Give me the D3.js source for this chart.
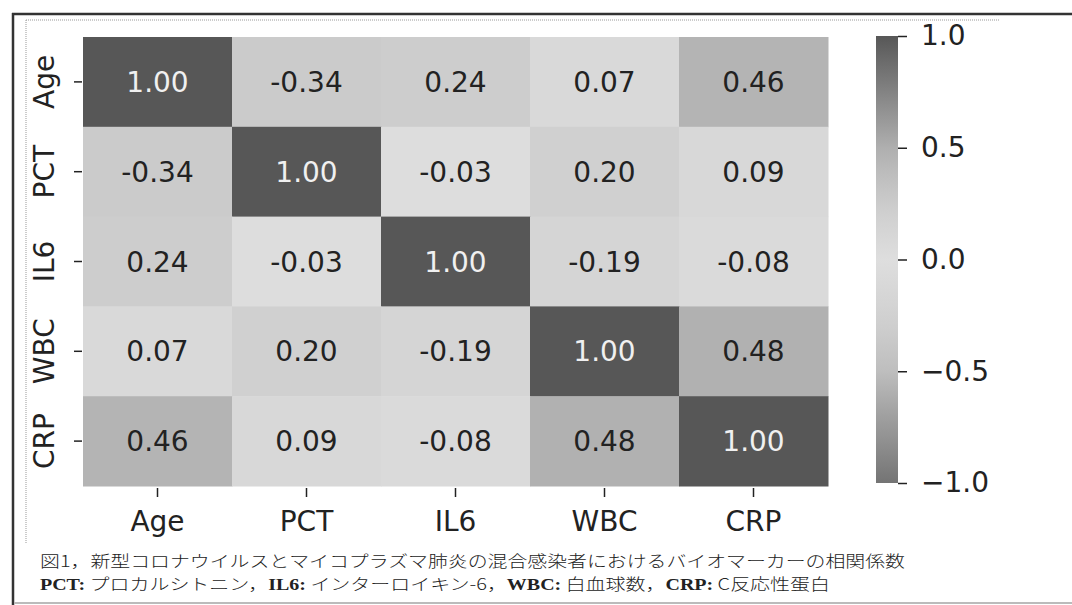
<!DOCTYPE html>
<html>
<head>
<meta charset="utf-8">
<script src="https://cdn.jsdelivr.net/npm/d3@7"></script>
<style>
  html, body { margin: 0; padding: 0; background: #fff; }
  svg { display: block; }
</style>
</head>
<body>
<div id="grafica"></div>
<script>
// variables y matriz de correlación
const variables = ["Age", "PCT", "IL6", "WBC", "CRP"];
const matriz = [
  [1.00, -0.34, 0.24, 0.07, 0.46],
  [-0.34, 1.00, -0.03, 0.20, 0.09],
  [0.24, -0.03, 1.00, -0.19, -0.08],
  [0.07, 0.20, -0.19, 1.00, 0.48],
  [0.46, 0.09, -0.08, 0.48, 1.00]
];
const ticksBarra = [1.0, 0.5, 0.0, -0.5, -1.0];
const pie1 = "図1，新型コロナウイルスとマイコプラズマ肺炎の混合感染者におけるバイオマーカーの相関係数";
const pie2 = [
  ["PCT:", true], [" プロカルシトニン，", false],
  ["IL6:", true], [" インターロイキン-6，", false],
  ["WBC:", true], [" 白血球数，", false],
  ["CRP:", true], ["  C反応性蛋白", false]
];

const W = 1072, H = 605;
const svg = d3.select("#grafica").append("svg")
  .attr("width", W).attr("height", H)
  .attr("viewBox", `0 0 ${W} ${H}`);

// marco escaneado
svg.append("line").attr("x1", 12).attr("x2", W).attr("y1", 14).attr("y2", 14)
  .attr("stroke", "#333").attr("stroke-width", 2.5);
svg.append("line").attr("x1", 13).attr("x2", 13).attr("y1", 13).attr("y2", H)
  .attr("stroke", "#333").attr("stroke-width", 2.5);
svg.append("line").attr("x1", 14).attr("x2", W).attr("y1", 603).attr("y2", 603)
  .attr("stroke", "#bbb").attr("stroke-width", 2);
svg.append("line").attr("x1", 26).attr("x2", 1000).attr("y1", 20).attr("y2", 20)
  .attr("stroke", "#999").attr("stroke-width", 1).attr("stroke-dasharray", "1,1");
svg.append("line").attr("x1", 26).attr("x2", 26).attr("y1", 20).attr("y2", 543)
  .attr("stroke", "#999").attr("stroke-width", 1).attr("stroke-dasharray", "1,1");

const mIzq = 83, mSup = 37, mDer = 828, mInf = 486;

const x = d3.scaleBand().domain(variables).range([mIzq, mDer]);
const y = d3.scaleBand().domain(variables).range([mSup, mInf]);

// coolwarm visto en escala de grises
const color = d3.scaleLinear()
  .domain([-1, -0.5, -0.25, 0, 0.25, 0.5, 1])
  .range(["#747474", "#bebebe", "#d2d2d2", "#dedede", "#cccccc", "#afafaf", "#575757"])
  .clamp(true);

const celdas = [];
matriz.forEach((fila, i) => fila.forEach((v, j) => celdas.push({ fila: variables[i], col: variables[j], v })));

const g = svg.append("g");
g.selectAll("rect.celda")
  .data(celdas)
  .enter()
  .append("rect")
  .attr("class", "celda")
  .attr("x", d => x(d.col))
  .attr("y", d => y(d.fila))
  .attr("width", x.bandwidth() + 0.5)
  .attr("height", y.bandwidth() + 0.5)
  .attr("fill", d => color(d.v));

g.selectAll("text.anot")
  .data(celdas)
  .enter()
  .append("text")
  .attr("class", "anot")
  .attr("x", d => x(d.col) + x.bandwidth() / 2)
  .attr("y", d => y(d.fila) + y.bandwidth() / 2)
  .attr("dy", "0.36em")
  .attr("text-anchor", "middle")
  .style("font-family", "DejaVu Sans")
  .style("font-size", "28px")
  .style("fill", d => d.v > 0.7 ? "#f0f0f0" : "#222")
  .text(d => d.v.toFixed(2));

// ejes
const ejeX = svg.append("g")
  .attr("transform", `translate(0,${mInf})`)
  .call(d3.axisBottom(x).tickSize(9).tickPadding(16));
ejeX.select(".domain").remove();
ejeX.selectAll("line").attr("stroke", "#222").attr("stroke-width", 1.5).attr("y1", 2).attr("y2", 11);
ejeX.selectAll("text")
  .attr("dy", "0.71em")
  .style("font-family", "DejaVu Sans")
  .style("font-size", "28px")
  .style("fill", "#222");

const ejeY = svg.append("g")
  .attr("transform", `translate(${mIzq},0)`)
  .call(d3.axisLeft(y).tickSize(8).tickPadding(0));
ejeY.select(".domain").remove();
ejeY.selectAll("line").attr("stroke", "#222").attr("stroke-width", 1.5).attr("x1", -1).attr("x2", -9);
ejeY.selectAll("text")
  .attr("text-anchor", "middle")
  .attr("x", 0).attr("y", 0).attr("dy", 0)
  .attr("transform", "translate(-29,0) rotate(-90)")
  .style("font-family", "DejaVu Sans")
  .style("font-size", "28px")
  .style("fill", "#222");

// barra de color
const cbX = 876, cbW = 22, cbSup = 36, cbInf = 483;
const yBarra = d3.scaleLinear().domain([-1, 1]).range([cbInf, cbSup]);
const defs = svg.append("defs");
const grad = defs.append("linearGradient").attr("id", "grad").attr("x1", 0).attr("x2", 0).attr("y1", 1).attr("y2", 0);
d3.range(0, 1.0001, 0.05).forEach(t => {
  grad.append("stop").attr("offset", t).attr("stop-color", color(-1 + 2 * t));
});
svg.append("rect")
  .attr("x", cbX).attr("y", cbSup)
  .attr("width", cbW).attr("height", cbInf - cbSup)
  .attr("fill", "url(#grad)");
const ejeBarra = svg.append("g")
  .attr("transform", `translate(${cbX + cbW},0)`)
  .call(d3.axisRight(yBarra).tickValues(ticksBarra).tickSize(9).tickPadding(14)
    .tickFormat(d => d3.format(".1f")(d).replace("-", "−")));
ejeBarra.select(".domain").remove();
ejeBarra.selectAll("line").attr("stroke", "#222").attr("stroke-width", 1.5);
ejeBarra.selectAll("text")
  .style("font-family", "DejaVu Sans")
  .style("font-size", "28px")
  .style("fill", "#222");

// pie de figura (el escaneo ensancha los glifos)
svg.append("text")
  .attr("x", 40).attr("y", 567)
  .attr("textLength", 865).attr("lengthAdjust", "spacingAndGlyphs")
  .style("font-family", "Noto Sans CJK JP")
  .style("font-weight", 300)
  .style("font-size", "16px")
  .style("fill", "#222")
  .text(pie1);

const t2 = svg.append("text")
  .attr("x", 40).attr("y", 590)
  .attr("textLength", 790).attr("lengthAdjust", "spacingAndGlyphs")
  .style("font-size", "16px")
  .style("fill", "#222");
t2.selectAll("tspan")
  .data(pie2)
  .enter()
  .append("tspan")
  .style("font-family", d => d[1] ? "Liberation Serif" : "Noto Sans CJK JP")
  .style("font-weight", d => d[1] ? 700 : 300)
  .text(d => d[0]);
</script>
</body>
</html>
